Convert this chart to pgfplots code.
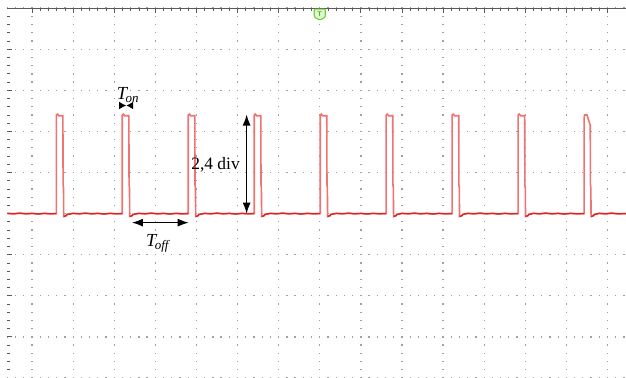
\documentclass[border=0pt]{standalone}
\usepackage{pgfplots}
\pgfplotsset{compat=1.18}
\usepackage{pgfplotstable}
\usepackage{fontspec}
\setmainfont{Liberation Serif}
\usetikzlibrary{arrows.meta}
\definecolor{gridc}{RGB}{160,160,160}
\definecolor{tickc}{RGB}{90,90,90}
\definecolor{tracelight}{RGB}{240,115,115}
\definecolor{tracedark}{RGB}{222,35,35}
\definecolor{trigline}{RGB}{110,210,60}
\definecolor{trigfill}{RGB}{225,248,210}

\pgfplotstableread{
x y
-7.60 0.005
-7.45 -0.005
-7.30 0.01
-7.15 -0.005
-7.00 0.005
-6.85 -0.01
-6.70 0.005
-6.55 -0.005
-6.41 0.00
-6.41 2.40
-6.38 2.42
-6.35 2.38
-6.25 2.38
-6.245 0.70
-6.235 0.62
-6.23 -0.07
-6.17 -0.05
-6.15 -0.02
-6.00 0.005
-5.85 -0.005
-5.70 0.01
-5.55 -0.005
-5.40 0.005
-5.25 -0.01
-5.10 0.005
-4.95 -0.005
-4.805 0.00
-4.805 2.40
-4.775 2.42
-4.745 2.38
-4.645 2.38
-4.64 0.70
-4.63 0.62
-4.625 -0.07
-4.565 -0.05
-4.545 -0.02
-4.40 0.005
-4.25 -0.005
-4.10 0.01
-3.95 -0.005
-3.80 0.005
-3.65 -0.01
-3.50 0.005
-3.35 -0.005
-3.20 0.00
-3.20 2.40
-3.17 2.42
-3.14 2.38
-3.04 2.38
-3.035 0.70
-3.025 0.62
-3.02 -0.07
-2.96 -0.05
-2.94 -0.02
-2.80 0.005
-2.65 -0.005
-2.50 0.01
-2.35 -0.005
-2.20 0.005
-2.05 -0.01
-1.90 0.005
-1.75 -0.005
-1.595 0.00
-1.595 2.40
-1.565 2.42
-1.535 2.38
-1.435 2.38
-1.43 0.70
-1.42 0.62
-1.415 -0.07
-1.355 -0.05
-1.335 -0.02
-1.20 0.005
-1.05 -0.005
-0.90 0.01
-0.75 -0.005
-0.60 0.005
-0.45 -0.01
-0.30 0.005
-0.15 -0.005
0.01 0.00
0.01 2.40
0.04 2.42
0.07 2.38
0.17 2.38
0.175 0.70
0.185 0.62
0.19 -0.07
0.25 -0.05
0.27 -0.02
0.40 0.005
0.55 -0.005
0.70 0.01
0.85 -0.005
1.00 0.005
1.15 -0.01
1.30 0.005
1.45 -0.005
1.615 0.00
1.615 2.40
1.645 2.42
1.675 2.38
1.775 2.38
1.78 0.70
1.79 0.62
1.795 -0.07
1.855 -0.05
1.875 -0.02
2.00 0.005
2.15 -0.005
2.30 0.01
2.45 -0.005
2.60 0.005
2.75 -0.01
2.90 0.005
3.05 -0.005
3.22 0.00
3.22 2.40
3.25 2.42
3.28 2.38
3.38 2.38
3.385 0.70
3.395 0.62
3.40 -0.07
3.46 -0.05
3.48 -0.02
3.60 0.005
3.75 -0.005
3.90 0.01
4.05 -0.005
4.20 0.005
4.35 -0.01
4.50 0.005
4.65 -0.005
4.825 0.00
4.825 2.40
4.855 2.42
4.885 2.38
4.985 2.38
4.99 0.70
5.00 0.62
5.005 -0.07
5.065 -0.05
5.085 -0.02
5.20 0.005
5.35 -0.005
5.50 0.01
5.65 -0.005
5.80 0.005
5.95 -0.01
6.10 0.005
6.25 -0.005
6.43 0.00
6.43 2.30
6.44 2.40
6.50 2.40
6.58 2.15
6.585 0.70
6.595 0.62
6.60 -0.07
6.66 -0.05
6.68 -0.02
6.80 0.005
6.95 -0.005
7.10 0.01
7.25 -0.005
7.45 0.00
}\trace

\begin{document}
\begin{tikzpicture}
\path[use as bounding box] (0,0) rectangle (626bp,378bp);
\begin{axis}[
  at={(626bp,0bp)}, anchor=south east,
  width=618.6bp, height=369.9bp, scale only axis,
  xmin=-7.6, xmax=7.45, ymin=-4, ymax=5,
  axis x line*=top, axis y line*=left,
  y axis line style={draw=none},
  x axis line style={draw=tickc, line width=0.8bp},
  xtick={-7,...,7}, ytick={-4,...,5},
  minor x tick num=4, minor y tick num=4,
  xticklabels={}, yticklabels={},
  tick align=inside,
  major tick length=5bp, minor tick length=2.5bp,
  tick style={draw=tickc, line width=0.8bp},
  grid=major,
  major grid style={draw=gridc, line width=1.3bp, dash pattern=on 1.3bp off 6.92bp, dash phase=0.65bp},
  clip=true,
]
\addplot[color=tracelight, line width=1.6bp] table[x=x,y=y] {\trace};
\addplot[color=tracedark, line width=1.4bp, restrict y to domain=-0.1:0.1, unbounded coords=jump] table[x=x,y=y] {\trace};

% T_on
\node[anchor=base west, inner sep=0pt, font=\fontsize{18.5}{18.5}\selectfont\itshape] at (axis cs:-4.94,2.77) {T\kern-1.5bp\raisebox{-2.5bp}{\fontsize{13}{13}\selectfont on}};
\draw[-{Latex[length=7bp,width=8bp]}, line width=1.8bp] (axis cs:-4.88,2.63) -- (axis cs:-4.71,2.63);
\draw[-{Latex[length=7bp,width=8bp]}, line width=1.8bp] (axis cs:-4.54,2.63) -- (axis cs:-4.71,2.63);

% T_off
\draw[{Latex[length=11bp,width=8bp]}-{Latex[length=11bp,width=8bp]}, line width=1.2bp] (axis cs:-4.57,-0.22) -- (axis cs:-3.19,-0.22);
\node[anchor=base west, inner sep=0pt, font=\fontsize{18.5}{18.5}\selectfont\itshape] at (axis cs:-4.23,-0.80) {T\kern-1.5bp\raisebox{-3bp}{\fontsize{13}{13}\selectfont off}};

% 2,4 div
\draw[{Latex[length=11bp,width=8bp]}-{Latex[length=11bp,width=8bp]}, line width=1.2bp] (axis cs:-1.78,2.41) -- (axis cs:-1.78,0.0);
\node[anchor=base west, inner sep=0pt, font=\fontsize{17.5}{17.5}\selectfont] at (axis cs:-3.13,1.07) {2,4 div};

% trigger marker
\begin{scope}[shift={(axis cs:0,5)}]
\draw[draw=trigline, fill=trigfill, line width=1.1bp, rounded corners=1bp] (-5.5bp,-1bp) -- (5.5bp,-1bp) -- (5.5bp,-9bp) -- (0bp,-12bp) -- (-5.5bp,-9bp) -- cycle;
\node[text=trigline!80!black, font=\sffamily\bfseries\fontsize{7}{7}\selectfont, inner sep=0pt] at (0bp,-6bp) {T};
\end{scope}
\end{axis}
\end{tikzpicture}
\end{document}
